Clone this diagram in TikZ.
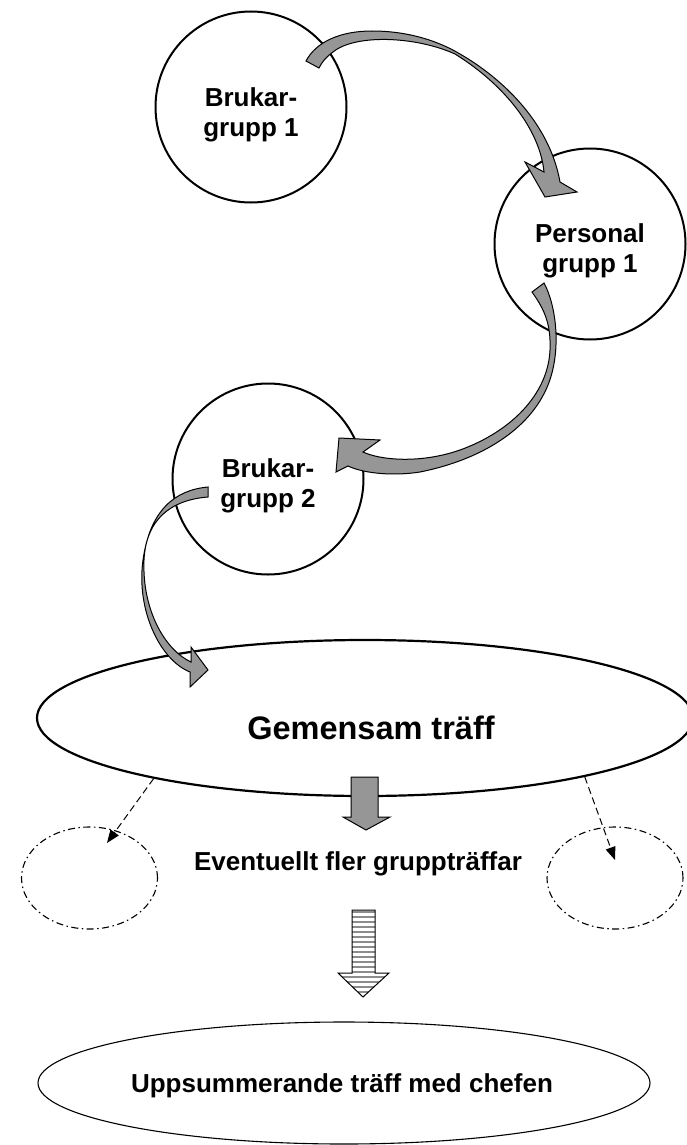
\documentclass[tikz,border=0pt]{standalone}
\usepackage{fontspec}
\setmainfont{Liberation Sans}
\usetikzlibrary{shapes.geometric,arrows.meta}
\definecolor{arrowgray}{RGB}{150,150,150}
\definecolor{stripegray}{RGB}{140,140,140}
\begin{document}
\begin{tikzpicture}[x=1pt,y=-1pt,
  grp/.style={circle, draw, line width=2pt, fill=white, minimum size=191pt, inner sep=0pt},
  grptext/.style={align=center, inner sep=0pt, font=\bfseries\fontsize{26}{30}\selectfont},
  blockarrow/.style={fill=arrowgray, draw=black, line width=1pt, line join=miter},
  dashell/.style={ellipse, draw, line width=1.1pt, dash pattern=on 7pt off 3.5pt on 1.5pt off 3.5pt, minimum width=136pt, minimum height=102pt, inner sep=0pt},
  dasharrow/.style={draw, line width=1pt, dash pattern=on 7pt off 4pt, -{Triangle[length=13pt,width=10pt]}},
]
\useasboundingbox (0,0) rectangle (687,1145);
\fill[white] (0,0) rectangle (687,1145);

% group circles
\node[grp] (b1) at (251,107) {};
\node[grp] (p1) at (590,244) {};
\node[grp] (b2) at (268,479) {};
\node[grptext] (b1t) at (251,115) {Brukar-\\grupp 1};
\node[grptext] (p1t) at (590,251) {Personal\\grupp 1};
\node[grptext] (b2t) at (268,486) {Brukar-\\grupp 2};

% big ellipses
\node[ellipse, draw, line width=2.2pt, minimum width=656pt, minimum height=156pt, inner sep=0pt] (gem) at (365,718) {};
\node[inner sep=0pt, font=\bfseries\fontsize{32.5}{38}\selectfont] (gemt) at (371,728) {Gemensam träff};
\node[ellipse, draw, line width=1.1pt, minimum width=612pt, minimum height=122pt, inner sep=0pt] (chef) at (344,1083) {};
\node[inner sep=0pt, font=\bfseries\fontsize{26}{30}\selectfont] (cheft) at (342,1086) {Uppsummerande träff med chefen};

% side group ellipses
\node[dashell] (dl) at (89.5,878) {};
\node[dashell] (dr) at (615,878) {};
\node[inner sep=0pt, font=\bfseries\fontsize{26}{30}\selectfont] (fler) at (358,864) {Eventuellt fler gruppträffar};

% dashed arrows
\coordinate (dlend) at (107,843);
\coordinate (drend) at (615,860);
\draw[dasharrow] (gem.196) -- (dlend);
\draw[dasharrow] (gem.345) -- (drend);

% curved block arrow 1: Brukargrupp 1 -> Personal grupp 1
\draw[blockarrow] (306,61) .. controls (316,42) and (340,31) .. (372,31)
  .. controls (410,31) and (440,42) .. (460,54)
  .. controls (505,80) and (550,125) .. (560,182)
  -- (577,192) -- (545,197) -- (525,162) -- (544,172)
  .. controls (540,130) and (505,85) .. (455,54)
  .. controls (415,36) and (355,34) .. (333,52)
  .. controls (326,57) and (322,62) .. (319,68) -- cycle;

% curved block arrow 2: Personal grupp 1 -> Brukargrupp 2
\draw[blockarrow] (544,283) .. controls (556,305) and (562,350) .. (548,385)
  .. controls (530,430) and (480,460) .. (420,472)
  .. controls (395,476) and (365,474) .. (348,466)
  -- (336,472) -- (339,438) -- (380,440) -- (363,452)
  .. controls (380,460) and (420,464) .. (460,450)
  .. controls (510,432) and (548,395) .. (550,350)
  .. controls (551,325) and (545,310) .. (532,292) -- cycle;

% curved block arrow 3: Brukargrupp 2 -> Gemensam traff
\draw[blockarrow] (208,487) .. controls (175,490) and (150,510) .. (143,560)
  .. controls (136,610) and (160,660) .. (190,672)
  -- (190,687) -- (208,670) -- (191,647) -- (191,662)
  .. controls (165,650) and (142,610) .. (144,560)
  .. controls (146,520) and (170,500) .. (208,497) -- cycle;

% straight gray arrow
\draw[blockarrow] (351,777) -- (378,777) -- (378,817) -- (390,817) -- (366,830)
  -- (343,817) -- (351,817) -- cycle;

% striped arrow
\begin{scope}
  \path[clip] (352,910) -- (375,910) -- (375,973) -- (389,973) -- (363,997)
    -- (338,973) -- (352,973) -- cycle;
  \fill[white] (330,905) rectangle (395,1000);
  \foreach \yy in {912,917,...,997} {
    \draw[stripegray, line width=2.8pt] (330,\yy) -- (395,\yy);
  }
\end{scope}
\draw[line width=1pt, line join=miter] (352,910) -- (375,910) -- (375,973) -- (389,973) -- (363,997)
    -- (338,973) -- (352,973) -- cycle;
\end{tikzpicture}
\end{document}
